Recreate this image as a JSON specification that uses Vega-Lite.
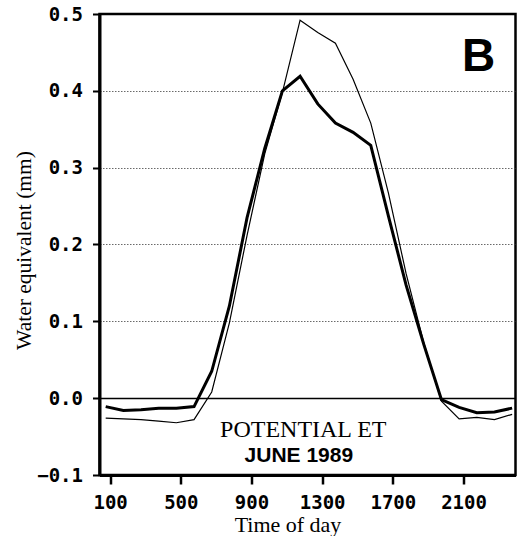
{
  "$schema": "https://vega.github.io/schema/vega-lite/v6.json",
  "width": 416,
  "height": 461,
  "autosize": {"type": "none"},
  "padding": {"left": 99.5, "top": 14, "right": 4.5, "bottom": 61},
  "background": "white",
  "config": {"view": {"stroke": "black", "strokeWidth": 2.5}},
  "data": {
    "values": [
      {"time": 75, "value": -0.011, "series": "s1"},
      {"time": 175, "value": -0.016, "series": "s1"},
      {"time": 275, "value": -0.015, "series": "s1"},
      {"time": 375, "value": -0.013, "series": "s1"},
      {"time": 475, "value": -0.013, "series": "s1"},
      {"time": 575, "value": -0.011, "series": "s1"},
      {"time": 675, "value": 0.035, "series": "s1"},
      {"time": 775, "value": 0.12, "series": "s1"},
      {"time": 875, "value": 0.235, "series": "s1"},
      {"time": 975, "value": 0.325, "series": "s1"},
      {"time": 1075, "value": 0.4, "series": "s1"},
      {"time": 1175, "value": 0.419, "series": "s1"},
      {"time": 1275, "value": 0.383, "series": "s1"},
      {"time": 1375, "value": 0.358, "series": "s1"},
      {"time": 1475, "value": 0.346, "series": "s1"},
      {"time": 1575, "value": 0.329, "series": "s1"},
      {"time": 1675, "value": 0.237, "series": "s1"},
      {"time": 1775, "value": 0.147, "series": "s1"},
      {"time": 1875, "value": 0.07, "series": "s1"},
      {"time": 1975, "value": -0.002, "series": "s1"},
      {"time": 2075, "value": -0.012, "series": "s1"},
      {"time": 2175, "value": -0.019, "series": "s1"},
      {"time": 2275, "value": -0.018, "series": "s1"},
      {"time": 2375, "value": -0.013, "series": "s1"},
      {"time": 75, "value": -0.026, "series": "s2"},
      {"time": 175, "value": -0.027, "series": "s2"},
      {"time": 275, "value": -0.028, "series": "s2"},
      {"time": 375, "value": -0.03, "series": "s2"},
      {"time": 475, "value": -0.032, "series": "s2"},
      {"time": 575, "value": -0.028, "series": "s2"},
      {"time": 675, "value": 0.008, "series": "s2"},
      {"time": 775, "value": 0.098, "series": "s2"},
      {"time": 875, "value": 0.212, "series": "s2"},
      {"time": 975, "value": 0.318, "series": "s2"},
      {"time": 1075, "value": 0.398, "series": "s2"},
      {"time": 1175, "value": 0.492, "series": "s2"},
      {"time": 1275, "value": 0.476, "series": "s2"},
      {"time": 1375, "value": 0.462, "series": "s2"},
      {"time": 1475, "value": 0.415, "series": "s2"},
      {"time": 1575, "value": 0.358, "series": "s2"},
      {"time": 1675, "value": 0.267, "series": "s2"},
      {"time": 1775, "value": 0.162, "series": "s2"},
      {"time": 1875, "value": 0.072, "series": "s2"},
      {"time": 1975, "value": -0.004, "series": "s2"},
      {"time": 2075, "value": -0.027, "series": "s2"},
      {"time": 2175, "value": -0.025, "series": "s2"},
      {"time": 2275, "value": -0.028, "series": "s2"},
      {"time": 2375, "value": -0.021, "series": "s2"}
    ]
  },
  "layer": [
    {
      "mark": {"type": "line", "color": "black", "clip": true},
      "encoding": {
        "x": {
          "field": "time",
          "type": "quantitative",
          "scale": {"domain": [40, 2394], "nice": false, "zero": false},
          "axis": {
            "values": [100, 200, 300, 400, 500, 600, 700, 800, 900, 1000, 1100, 1200, 1300, 1400, 1500, 1600, 1700, 1800, 1900, 2000, 2100, 2200, 2300, 2400],
            "labelExpr": "datum.value % 400 == 100 ? format(datum.value, 'd') : ''",
            "labelFont": "DejaVu Sans Mono",
            "labelFontWeight": "bold",
            "labelFontSize": 19,
            "labelColor": "black",
            "labelPadding": 9,
            "labelFlush": false,
            "labelOverlap": false,
            "tickSize": {"condition": {"test": "datum.value % 400 == 100", "value": 9}, "value": 6},
            "tickWidth": {"condition": {"test": "datum.value % 400 == 100", "value": 2.5}, "value": 1.5},
            "tickColor": "black",
            "domainColor": "black",
            "domainWidth": 3,
            "grid": false,
            "title": "Time of day",
            "titleFont": "Liberation Serif",
            "titleFontSize": 22,
            "titleFontWeight": "normal",
            "titleColor": "black",
            "titleX": 188,
            "titleY": 56,
            "titleBaseline": "alphabetic",
            "titleAlign": "center"
          }
        },
        "y": {
          "field": "value",
          "type": "quantitative",
          "scale": {"domain": [-0.1, 0.5], "nice": false, "zero": false},
          "axis": {
            "values": [-0.1, 0, 0.1, 0.2, 0.3, 0.4, 0.5],
            "format": ".1f",
            "labelFont": "DejaVu Sans Mono",
            "labelFontWeight": "bold",
            "labelFontSize": 19,
            "labelColor": "black",
            "labelPadding": 10,
            "tickSize": 7,
            "tickWidth": 2,
            "tickColor": "black",
            "domainColor": "black",
            "domainWidth": 3,
            "grid": true,
            "gridColor": {"condition": {"test": "datum.value == 0", "value": "black"}, "value": "#444"},
            "gridDash": {"condition": {"test": "datum.value == 0", "value": []}, "value": [1.5, 1.5]},
            "gridOpacity": {"condition": {"test": "datum.value < -0.05 || datum.value > 0.45", "value": 0}, "value": 1},
            "gridWidth": {"condition": {"test": "datum.value == 0", "value": 1.3}, "value": 0.8},
            "title": "Water equivalent (mm)",
            "titleFont": "Liberation Serif",
            "titleFontSize": 21.5,
            "titleFontWeight": "normal",
            "titleColor": "black",
            "titleAngle": 270,
            "titleX": -69,
            "titleY": 236,
            "titleBaseline": "alphabetic",
            "titleAlign": "center"
          }
        },
        "detail": {"field": "series"},
        "strokeWidth": {
          "field": "series",
          "type": "nominal",
          "scale": {"domain": ["s1", "s2"], "range": [3, 1.2]},
          "legend": null
        }
      }
    },
    {
      "data": {"values": [{}]},
      "mark": {"type": "text", "text": "B", "font": "Liberation Sans", "fontWeight": "bold", "fontSize": 46, "align": "center", "baseline": "alphabetic", "color": "black"},
      "encoding": {"x": {"datum": 2185, "type": "quantitative"}, "y": {"datum": 0.426, "type": "quantitative"}}
    },
    {
      "data": {"values": [{}]},
      "mark": {"type": "text", "text": "POTENTIAL ET", "font": "Liberation Serif", "fontSize": 24, "align": "center", "baseline": "alphabetic", "color": "black"},
      "encoding": {"x": {"datum": 1193, "type": "quantitative"}, "y": {"datum": -0.05, "type": "quantitative"}}
    },
    {
      "data": {"values": [{}]},
      "mark": {"type": "text", "text": "JUNE 1989", "font": "Liberation Sans", "fontWeight": "bold", "fontSize": 21, "align": "center", "baseline": "alphabetic", "color": "black"},
      "encoding": {"x": {"datum": 1168, "type": "quantitative"}, "y": {"datum": -0.0827, "type": "quantitative"}}
    }
  ]
}
